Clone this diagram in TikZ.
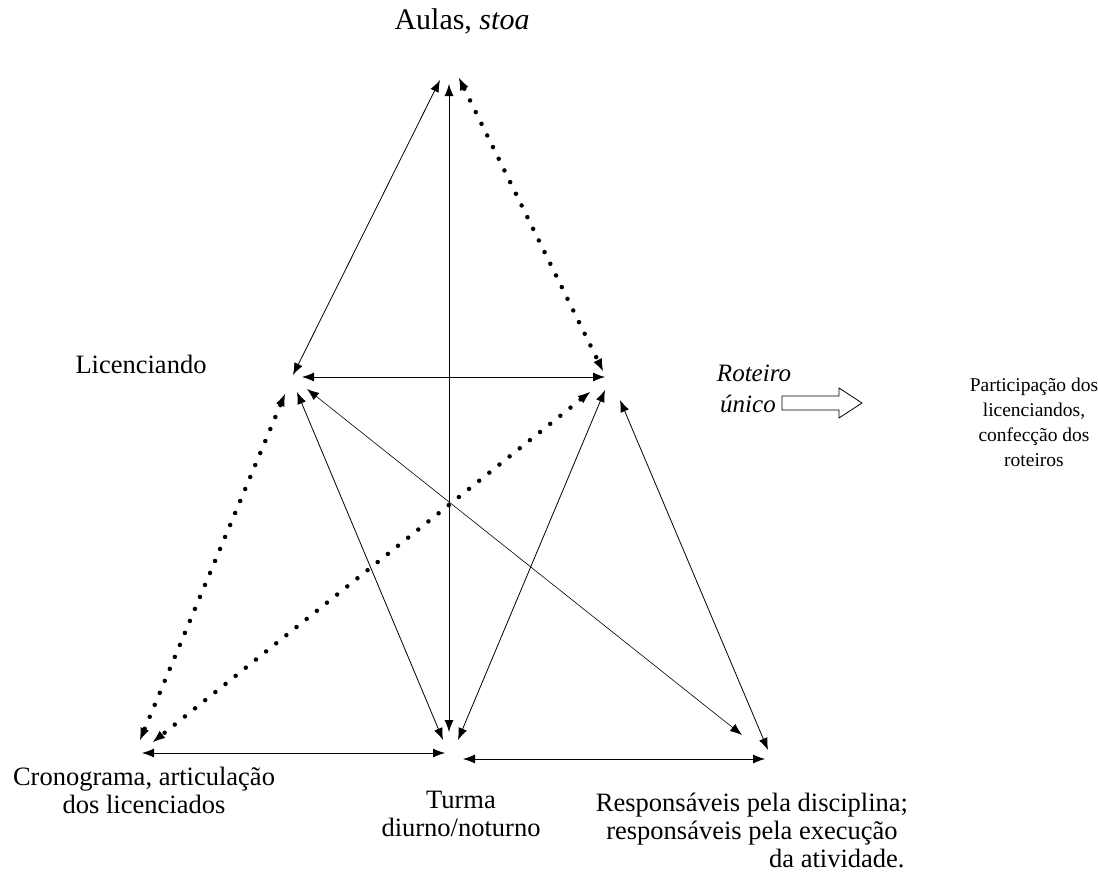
\documentclass[tikz,border=0pt]{standalone}
\usepackage{fontspec}
\setmainfont{Liberation Serif}
\usetikzlibrary{arrows.meta}
\begin{document}
\begin{tikzpicture}[x=1pt,y=-1pt,
  lbl/.style={inner sep=0pt,align=center,font=\fontsize{26.5}{28}\selectfont},
  sml/.style={inner sep=0pt,align=center,font=\fontsize{19.5}{25}\selectfont},
  itl/.style={inner sep=0pt,font=\fontsize{25}{26}\itshape},
  link/.style={line width=0.8pt,{Latex[length=12pt,width=9pt]}-{Latex[length=12pt,width=9pt]}},
  dotlink/.style={line width=4.5pt,line cap=round,dash pattern=on 0pt off 13pt,
    {Latex[length=12pt,width=9pt,line width=0pt]}-{Latex[length=12pt,width=9pt,line width=0pt]}},
]
\useasboundingbox (0,0) rectangle (1098,875);

% end points at the corners
\coordinate (aL) at (440,80);  \coordinate (aM) at (449,84);  \coordinate (aR) at (459,78);
\coordinate (lA) at (293,375); \coordinate (lR) at (302,377); \coordinate (lC) at (285,394);
\coordinate (lT) at (297,392); \coordinate (lS) at (307,389);
\coordinate (rA) at (603,371); \coordinate (rL) at (605,377); \coordinate (rC) at (590,392);
\coordinate (rT) at (605,390); \coordinate (rS) at (620,400);
\coordinate (cL) at (140,740); \coordinate (cR) at (153,742); \coordinate (cT) at (142,753);
\coordinate (tL) at (443,740); \coordinate (tA) at (449,732); \coordinate (tR) at (458,740);
\coordinate (tC) at (445,753); \coordinate (tS) at (463,759);
\coordinate (sL) at (742,735); \coordinate (sR) at (768,750); \coordinate (sT) at (765,759);

% labels
\node[lbl,font=\fontsize{30}{30}\selectfont] (aulas) at (462,21) {Aulas, \textit{stoa}};
\node[lbl] (lic) at (141,364) {Licenciando};
\node[itl] (rot) at (754,373) {Roteiro};
\node[itl] (uni) at (748,404) {único};
\node[sml] (part) at (1034,422) {Participação dos\\licenciandos,\\confecção dos\\roteiros};
\node[lbl] (cron) at (144,790) {Cronograma, articulação\\dos licenciados};
\node[lbl] (turma) at (461,814) {Turma\\diurno/noturno};
\node[lbl] (resp) at (752,830) {Responsáveis pela disciplina;\\responsáveis pela execução\\\hspace*{6.4em}da atividade.};

% solid connectors
\draw[link] (aL) -- (lA);
\draw[link] (aM) -- (tA);
\draw[link] (lR) -- (rL);
\draw[link] (lT) -- (tL);
\draw[link,line width=0.6pt] (lS) -- (sL);
\draw[link] (rT) -- (tR);
\draw[link] (rS) -- (sR);
\draw[link] (cT) -- (tC);
\draw[link] (tS) -- (sT);

% dotted connectors
\draw[dotlink] (aR) -- (rA);
\draw[dotlink] (lC) -- (cL);
\draw[dotlink] (rC) -- (cR);

% hollow block arrow
\draw[line width=0.8pt] (782,396) -- (839,396) -- (839,388) -- (862,403) -- (839,418) -- (839,410) -- (782,410) -- cycle;
\end{tikzpicture}
\end{document}
